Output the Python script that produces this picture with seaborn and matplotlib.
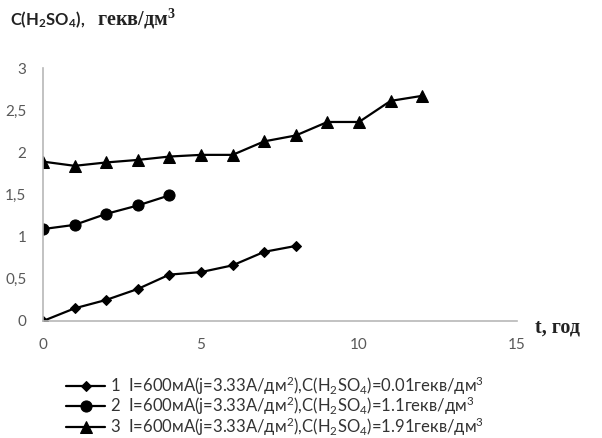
import matplotlib
matplotlib.use("Agg")
import matplotlib.pyplot as plt
import seaborn as sns
import pandas as pd

sns.set_style("white")
plt.rcParams['font.family'] = ['Lato', 'DejaVu Sans']
plt.rcParams['mathtext.default'] = 'regular'

t1 = [0, 1, 2, 3, 4, 5, 6, 7, 8]
c1 = [0.0, 0.15, 0.25, 0.38, 0.55, 0.58, 0.66, 0.82, 0.89]
t2 = [0, 1, 2, 3, 4]
c2 = [1.09, 1.14, 1.27, 1.37, 1.49]
t3 = [0, 1, 2, 3, 4, 5, 6, 7, 8, 9, 10, 11, 12]
c3 = [1.89, 1.84, 1.88, 1.91, 1.95, 1.97, 1.97, 2.13, 2.20, 2.36, 2.36, 2.61, 2.67]

labels = [
    "1  I=600мА(j=3.33А/дм$^{2}$),C(H$_{2}$SO$_{4}$)=0.01гекв/дм$^{3}$",
    "2  I=600мА(j=3.33А/дм$^{2}$),C(H$_{2}$SO$_{4}$)=1.1гекв/дм$^{3}$",
    "3  I=600мА(j=3.33А/дм$^{2}$),C(H$_{2}$SO$_{4}$)=1.91гекв/дм$^{3}$",
]
xticks = [0, 5, 10, 15]
yticks = [0, 0.5, 1, 1.5, 2, 2.5, 3]
yticklabels = ["0", "0,5", "1", "1,5", "2", "2,5", "3"]

fig = plt.figure(figsize=(6.02, 4.38), dpi=100)
ax = fig.add_axes([43/602, 1-321/438, (517-43)/602, (321-68)/438])

series = [(t1, c1, 'D', 5.5), (t2, c2, 'o', 8), (t3, c3, '^', 8)]
for (tt, cc, mk, ms), lab in zip(series, labels):
    df = pd.DataFrame({"t": tt, "c": cc})
    sns.lineplot(data=df, x="t", y="c", ax=ax, color="black", marker=mk,
                 markersize=ms, linewidth=1.6, markeredgecolor="black",
                 label=lab)

ax.set_xlim(0, 15)
ax.set_ylim(0, 3)
ax.set_xticks(xticks)
ax.set_xticklabels([str(x) for x in xticks])
ax.set_yticks(yticks)
ax.set_yticklabels(yticklabels)
ax.set_xlabel("")
ax.set_ylabel("")
for s in ["top", "right"]:
    ax.spines[s].set_visible(False)
for s in ["left", "bottom"]:
    ax.spines[s].set_color("#b8b8b8")
    ax.spines[s].set_linewidth(1.2)
ax.tick_params(axis='both', colors="#b8b8b8", labelcolor="#595959",
               labelsize=11, length=4, width=1, direction='out')
ax.tick_params(axis='x', pad=8)
ax.tick_params(axis='y', pad=8)

leg = ax.legend(loc="upper left", bbox_to_anchor=(58/602, 1-366/438),
                bbox_transform=fig.transFigure, frameon=False, fontsize=12,
                handlelength=2.3, handletextpad=0.3, labelspacing=-0.12,
                borderpad=0, labelcolor="#333333")

fig.text(10/602, 1-20/438, "C(H$_{2}$SO$_{4}$),", fontsize=12, fontweight='bold',
         color="#222222", va='center', ha='left')
fig.text(97/602, 1-19/438, "гекв/дм$^{3}$", fontsize=14.5, fontweight='bold',
         family='Liberation Serif', color="#222222", va='center', ha='left')
fig.text(535/602, 1-327/438, "t, год", fontsize=14.5, fontweight='bold',
         family='Liberation Serif', color="#222222", va='center', ha='left')

fig.savefig("out.png", dpi=100, facecolor="white")
